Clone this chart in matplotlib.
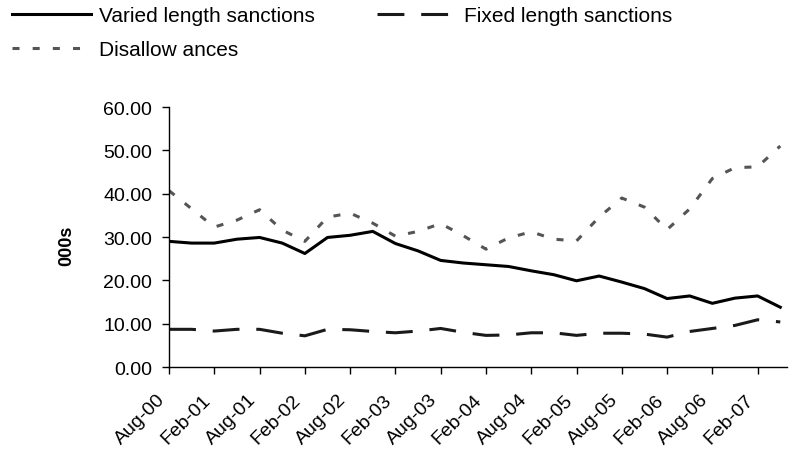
import matplotlib.pyplot as plt
import matplotlib.transforms as mtransforms

plt.rcParams['font.family'] = ['Liberation Sans', 'DejaVu Sans']

# quarterly periods Aug-00 .. May-07
periods = ['Aug-00', 'Nov-00', 'Feb-01', 'May-01', 'Aug-01', 'Nov-01', 'Feb-02',
           'May-02', 'Aug-02', 'Nov-02', 'Feb-03', 'May-03', 'Aug-03', 'Nov-03',
           'Feb-04', 'May-04', 'Aug-04', 'Nov-04', 'Feb-05', 'May-05', 'Aug-05',
           'Nov-05', 'Feb-06', 'May-06', 'Aug-06', 'Nov-06', 'Feb-07', 'May-07']

varied = [29.0, 28.6, 28.6, 29.5, 29.9, 28.6, 26.2, 29.9, 30.4, 31.3, 28.5, 26.8,
          24.6, 24.0, 23.6, 23.2, 22.2, 21.3, 19.9, 21.0, 19.6, 18.1, 15.8, 16.4,
          14.7, 15.9, 16.4, 13.8]
fixed = [8.7, 8.7, 8.3, 8.7, 8.7, 7.8, 7.2, 8.7, 8.6, 8.2, 7.9, 8.3,
         8.9, 8.0, 7.3, 7.4, 7.9, 7.9, 7.3, 7.8, 7.8, 7.6, 6.9, 8.2,
         8.9, 9.6, 10.9, 10.4]
disallow = [40.7, 36.5, 32.3, 33.9, 36.3, 31.6, 29.0, 34.6, 35.5, 33.2, 30.2, 31.3,
            33.1, 30.3, 27.2, 29.8, 31.2, 29.5, 29.1, 34.6, 39.0, 36.9, 31.7, 36.5,
            43.5, 46.0, 46.2, 51.0]

x = list(range(len(periods)))

fig = plt.figure(figsize=(7.91, 4.52), dpi=100)
ax = fig.add_axes([0.2137, 0.1858, 0.7813, 0.5752])

l1, = ax.plot(x, varied, color='black', lw=2.2)
l2, = ax.plot(x, fixed, color='#1a1a1a', lw=2.2, dashes=(8.8, 5.5))
l3, = ax.plot(x, disallow, color='#555555', lw=2.2, dashes=(2.3, 4.3))

ax.set_ylim(0, 60)
ax.set_yticks(range(0, 61, 10))
ax.set_yticklabels(['%.2f' % v for v in range(0, 61, 10)])
ax.set_xlim(0, 27.3)
ax.set_xticks(x[::2])
ax.set_xticklabels(periods[::2], rotation=45, ha='right', rotation_mode='anchor')

for s in ['top', 'right']:
    ax.spines[s].set_visible(False)
for s in ['left', 'bottom']:
    ax.spines[s].set_linewidth(1.0)
ax.tick_params(direction='out', length=5, width=1, labelsize=14, pad=7)
ax.tick_params(axis='x', pad=12)
# nudge the rotated labels left a little
shift = mtransforms.ScaledTranslation(-9 / 72, 0, fig.dpi_scale_trans)
for lab in ax.get_xticklabels():
    lab.set_transform(lab.get_transform() + shift)

ax.set_ylabel('000s', fontsize=13, fontweight='bold')
ax.yaxis.set_label_coords(-0.151, 0.47)

fig.legend([l1, l3, l2], ['Varied length sanctions', 'Disallow ances', 'Fixed length sanctions'],
           ncol=2, loc='upper left', bbox_to_anchor=(-0.008, 1.025), frameon=False,
           fontsize=15, handlelength=3.75, handletextpad=0.4, columnspacing=3.0,
           labelspacing=0.7)

fig.savefig('out.png', dpi=100)
